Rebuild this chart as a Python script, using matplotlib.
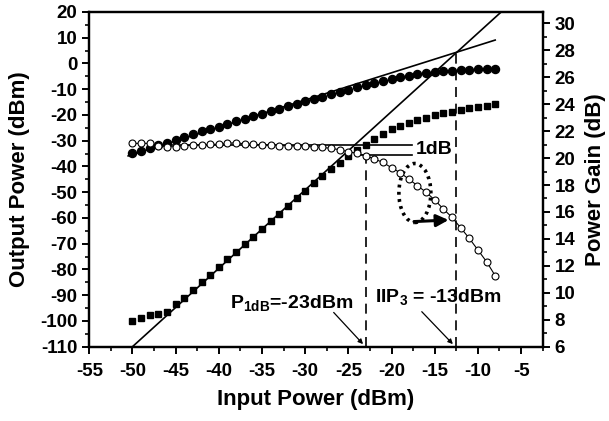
import numpy as np
import matplotlib
matplotlib.use('Agg')
from matplotlib import pyplot as plt
from matplotlib.patches import Ellipse
from matplotlib.ticker import MultipleLocator

plt.rcParams['font.family'] = ['Liberation Sans', 'DejaVu Sans']
plt.rcParams['font.weight'] = 'bold'
plt.rcParams['axes.unicode_minus'] = False
plt.rcParams['mathtext.fontset'] = 'custom'
plt.rcParams['mathtext.rm'] = 'Liberation Sans:bold'
plt.rcParams['mathtext.bf'] = 'Liberation Sans:bold'

# input power sweep (dBm)
pin = list(range(-50, -7))

# fundamental output power (dBm), filled circles
pout_fund = [-34.6, -33.8, -32.8, -31.6, -30.7, -29.7, -28.4, -27.3, -26.3, -25.5,
             -24.5, -23.5, -22.4, -21.4, -20.5, -19.5, -18.4, -17.5, -16.5, -15.6,
             -14.7, -13.8, -12.9, -11.9, -11.0, -10.3, -9.2, -8.3, -7.4, -6.7,
             -6.0, -5.4, -4.7, -4.2, -3.7, -3.3, -3.0, -2.8, -2.6, -2.4,
             -2.2, -2.1, -2.1]

# third-order intermodulation output (dBm), filled squares
pout_im3 = [-100.2, -98.7, -97.8, -97.2, -96.4, -93.5, -90.9, -87.8, -84.8, -82.0,
            -79.0, -76.0, -73.2, -70.3, -67.3, -64.3, -61.3, -58.3, -55.3, -52.3,
            -49.4, -46.5, -43.7, -40.9, -38.5, -36.0, -33.6, -31.5, -29.5, -27.4,
            -25.6, -24.2, -23.1, -21.9, -21.0, -20.1, -19.3, -18.7, -18.0, -17.4,
            -16.8, -16.4, -15.9]

# power gain (dB), open circles
gain = [21.09, 21.09, 21.09, 20.92, 20.84, 20.84, 20.92, 20.97, 20.97, 21.02,
        21.02, 21.09, 21.14, 21.05, 21.02, 20.97, 20.97, 20.92, 20.92, 20.88,
        20.87, 20.82, 20.79, 20.72, 20.62, 20.47, 20.35, 20.18, 19.93, 19.68,
        19.28, 18.91, 18.44, 17.95, 17.46, 16.89, 16.22, 15.60, 14.83, 14.04,
        13.18, 12.31, 11.27]

# extrapolated lines
fund_x = [-50.5, -8.0]
fund_y = [-35.9, 9.1]
im3_x = [-50.0, -6.5]
im3_y = [-110.0, -110.0 + 3.045 * 43.5]

p1db = -23.0
iip3 = -12.5
iip3_out = 4.5
gain_ref = 21.0
gain_1db = 20.25

fig = plt.figure(figsize=(6.09, 4.21), dpi=100)
ax = fig.add_axes([0.1466, 0.1765, 0.7445, 0.795])
ax2 = ax.twinx()

ax.plot(pin, pout_fund, 'o', color='k', ms=5.8, zorder=3)
ax.plot(pin, pout_im3, 's', color='k', ms=4.9, zorder=3)
ax.plot(fund_x, fund_y, '-', color='k', lw=1.2)
ax.plot(im3_x, im3_y, '-', color='k', lw=1.2)

ax.plot([p1db, p1db], [-110, -36.5], color='k', lw=1.2, dashes=(6, 4))
ax.plot([iip3, iip3], [-110, iip3_out], color='k', lw=1.2, dashes=(6, 4))

ax.add_patch(Ellipse((-17.3, -50.3), 3.7, 22.9, fill=False, ec='k', lw=2.6,
                     linestyle=(0, (0.8, 1.2)), zorder=4))
ax.annotate('', xy=(-13.4, -60.8), xytext=(-17.4, -61.4),
            arrowprops=dict(arrowstyle='-|>', lw=2.2, color='k', mutation_scale=18,
                            shrinkA=0, shrinkB=0), zorder=5)

ax.text(-31.6, -95.3, r'P$_{\mathrm{1dB}}$=-23dBm', fontsize=14, fontweight='bold',
        ha='center', va='baseline')
ax.annotate('', xy=(-23.3, -109), xytext=(-26.7, -96.7),
            arrowprops=dict(arrowstyle='-|>', lw=0.9, color='k', mutation_scale=7,
                            shrinkA=0, shrinkB=0))
ax.text(-14.6, -92.8, r'IIP$_{\mathrm{3}}$ = -13dBm', fontsize=14, fontweight='bold',
        ha='center', va='baseline')
ax.annotate('', xy=(-12.9, -109), xytext=(-16.5, -96.4),
            arrowprops=dict(arrowstyle='-|>', lw=0.9, color='k', mutation_scale=7,
                            shrinkA=0, shrinkB=0))

ax2.plot(pin, gain, 'o-', color='k', mfc='white', ms=5.0, mew=0.8, lw=0.8, zorder=3)
ax2.plot([-47.6, -17.6], [gain_ref, gain_ref], color='k', lw=1.2)
ax2.plot([-24.0, -17.6], [gain_1db, gain_1db], color='k', lw=1.2)
ax2.text(-17.2, (gain_ref + gain_1db) / 2, '1dB', fontsize=14, fontweight='bold',
         ha='left', va='center')

ax.set_xlim(-55, -2.5)
ax.set_ylim(-110, 20)
ax2.set_ylim(6, 30.84)

ax.xaxis.set_major_locator(MultipleLocator(5))
ax.xaxis.set_minor_locator(MultipleLocator(2.5))
ax.yaxis.set_major_locator(MultipleLocator(10))
ax.yaxis.set_minor_locator(MultipleLocator(5))
ax2.yaxis.set_major_locator(MultipleLocator(2))
ax2.yaxis.set_minor_locator(MultipleLocator(1))

for a in (ax, ax2):
    for s in a.spines.values():
        s.set_linewidth(1.6)
    a.tick_params(which='major', direction='out', length=5, width=1.4, labelsize=13.5)
    a.tick_params(which='minor', direction='out', length=3, width=1.2)
ax.tick_params(axis='both', which='both', top=False, right=False)
ax.tick_params(axis='x', pad=7)

ax.set_xlabel('Input Power (dBm)', fontsize=16, fontweight='bold', labelpad=6)
ax.set_ylabel('Output Power (dBm)', fontsize=16, fontweight='bold', labelpad=7)
ax2.set_ylabel('Power Gain (dB)', fontsize=16, fontweight='bold', labelpad=7)

fig.savefig('out.png', dpi=100)
